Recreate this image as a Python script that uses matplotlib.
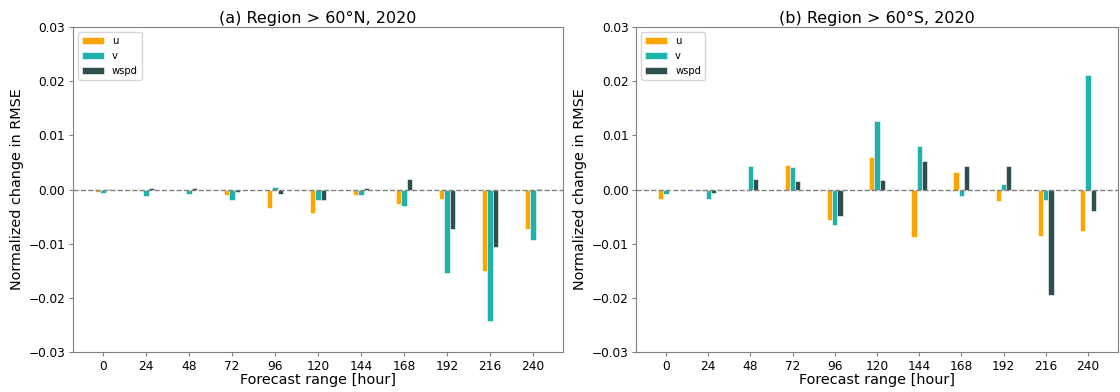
import matplotlib
matplotlib.use("Agg")
import matplotlib.pyplot as plt
import numpy as np

hours = [0, 24, 48, 72, 96, 120, 144, 168, 192, 216, 240]

# Region > 60N
north_u = [-0.0004, -0.0002, -0.0001, -0.0010, -0.0035, -0.0043, -0.0010, -0.0027, -0.0018, -0.0151, -0.0073]
north_v = [-0.0006, -0.0012, -0.0008, -0.0020, 0.0004, -0.0020, -0.0010, -0.0030, -0.0155, -0.0243, -0.0094]
north_wspd = [0.0001, 0.0002, 0.0002, -0.0005, -0.0009, -0.0020, 0.0002, 0.0020, -0.0072, -0.0107, 0.0001]

# Region > 60S
south_u = [-0.0017, -0.0002, 0.0000, 0.0046, -0.0056, 0.0060, -0.0088, 0.0032, -0.0021, -0.0085, -0.0076]
south_v = [-0.0008, -0.0017, 0.0043, 0.0042, -0.0065, 0.0126, 0.0081, -0.0012, 0.0011, -0.0020, 0.0211]
south_wspd = [-0.0001, -0.0007, 0.0020, 0.0016, -0.0049, 0.0018, 0.0052, 0.0044, 0.0043, -0.0194, -0.0039]

titles = ["(a) Region > 60°N, 2020", "(b) Region > 60°S, 2020"]
series_labels = ["u", "v", "wspd"]
colors = ["orange", "lightseagreen", "darkslategray"]

fig = plt.figure(figsize=(11.2, 3.92), dpi=100)
ax1 = fig.add_axes([0.065, 0.102, 0.438, 0.829])
ax2 = fig.add_axes([0.568, 0.102, 0.430, 0.829])

x = np.array(hours, dtype=float)
w = 3.0
for ax, title, data in [(ax1, titles[0], [north_u, north_v, north_wspd]),
                        (ax2, titles[1], [south_u, south_v, south_wspd])]:
    for i, (vals, lab, c) in enumerate(zip(data, series_labels, colors)):
        ax.bar(x + (i - 1) * w, vals, width=w, color=c, label=lab,
               edgecolor="white", linewidth=0.4)
    ax.axhline(0, color="gray", linestyle="--", linewidth=1.0)
    ax.set_ylim(-0.03, 0.03)
    ax.set_yticks([-0.03, -0.02, -0.01, 0.0, 0.01, 0.02, 0.03])
    ax.set_xticks(hours)
    ax.tick_params(labelsize=8.7, color="gray", length=3, pad=2.5)
    for s in ax.spines.values():
        s.set_color("gray")
    ax.set_title(title, fontsize=11.5, pad=3)
    ax.set_xlabel("Forecast range [hour]", fontsize=10.4, labelpad=0)
    ax.set_ylabel("Normalized change in RMSE", fontsize=10.4, labelpad=3)
    ax.legend(loc="upper left", fontsize=7.2, handlelength=2.2)

fig.savefig("out.png", dpi=100)
